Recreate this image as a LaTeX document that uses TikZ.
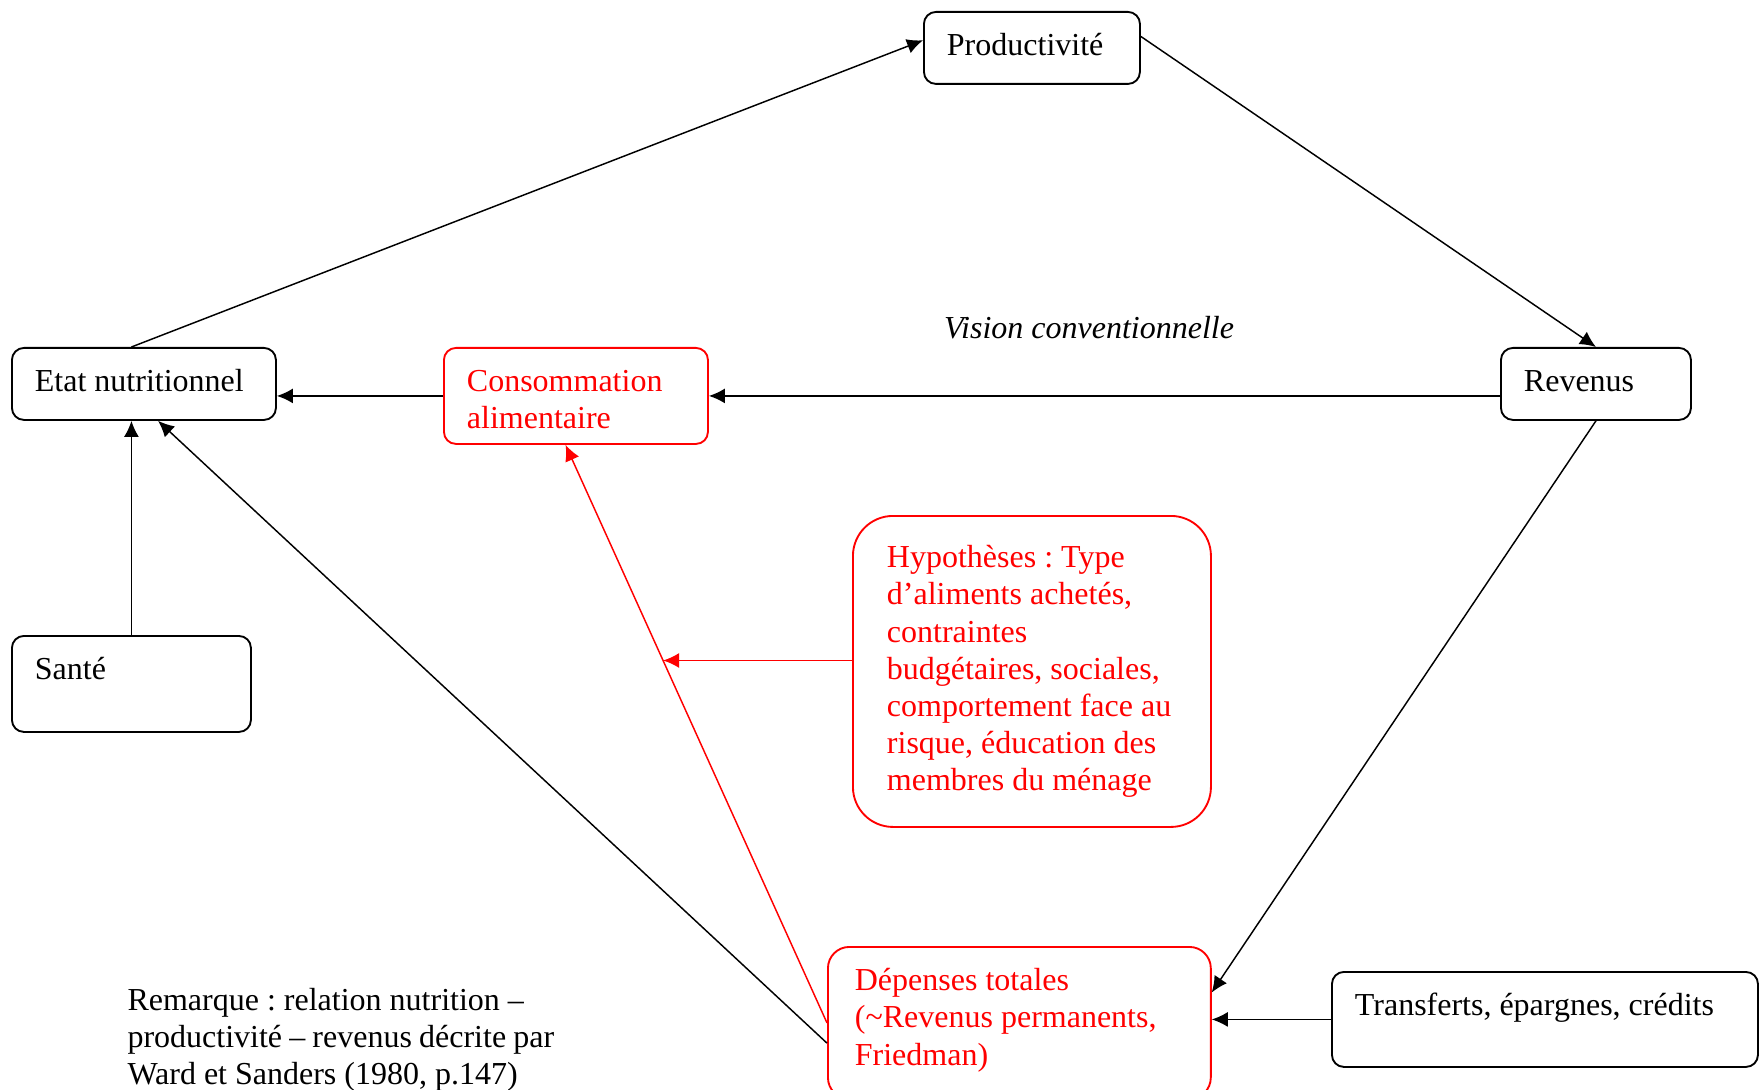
\documentclass[tikz,border=0pt]{standalone}
\usepackage{fontspec}
\setmainfont{Liberation Serif}
\usetikzlibrary{calc,arrows.meta}
\frenchspacing
\newlength{\pxu}
\setlength{\pxu}{0.375pt}
\newcommand{\txtsize}{\fontsize{12pt}{13.9pt}\selectfont}
\newcommand{\boxtext}[3]{\parbox[c][#1\pxu][t]{#2\pxu}{\strut #3}}
\tikzset{
    wbox/.style={draw, rounded corners=4.5pt, line width=0.7pt, anchor=north west, inner xsep=8.625pt, inner ysep=6.75pt},
    rbox/.style={wbox, draw=red, text=red},
    arr/.style={-{Latex[length=6pt,width=5.6pt]}, line width=0.55pt},
    rarr/.style={arr, red}
}
\begin{document}
\begin{tikzpicture}[x=0.375pt, y=-0.375pt, font=\txtsize]
    \useasboundingbox (0,0) rectangle (1760,1090);
    \node[wbox] (prod) at (923,11) {\boxtext{36}{170}{Productivité}};
    \node[wbox] (etat) at (11,347) {\boxtext{36}{218}{Etat nutritionnel}};
    \node[rbox] (conso) at (443,347) {\boxtext{60}{218}{Consommation\\alimentaire}};
    \node[wbox] (rev) at (1500,347) {\boxtext{36}{144}{Revenus}};
    \node[wbox] (sante) at (11,635) {\boxtext{60}{193}{Santé}};
    \node[rbox, rounded corners=15pt, inner xsep=12.75pt, inner ysep=9.75pt] (hyp) at (852,515) {\boxtext{259}{290}{Hypothèses : Type\\d’aliments achetés,\\contraintes\\budgétaires, sociales,\\comportement face au\\risque, éducation des\\membres du ménage}};
    \node[rbox, rounded corners=8pt, inner xsep=10.1pt] (dep) at (827,946) {\boxtext{116}{329}{Dépenses totales\\(\textasciitilde Revenus permanents,\\Friedman)}};
    \node[wbox] (transf) at (1331,971) {\boxtext{59}{380}{Transferts, épargnes, crédits}};
    \node[font=\txtsize\itshape, anchor=base] (vision) at (1089,339) {Vision conventionnelle};
    \node[anchor=north west, inner sep=0pt] (remarque) at (127,984) {\parbox[t]{160pt}{\strut Remarque : relation nutrition –\\productivité – revenus décrite par\\Ward et Sanders (1980, p.147)}};
    \coordinate (hit) at ($(dep.west)!0.627!(conso.258)$);
    \draw [arr] (etat.north -| sante.north) -- (prod.176);
    \draw [arr] (prod.6) -- (rev.north);
    \draw [arr] (rev.west |- conso.east) -- (conso.east);
    \draw [arr] (conso.west) -- (conso.west -| etat.east);
    \draw [arr] (sante.north) -- (sante.north |- etat.south);
    \draw [arr] (dep.186) -- (etat.291);
    \draw [arr] (rev.south) -- (dep.9);
    \draw [arr] (transf.west) -- (transf.west -| dep.east);
    \draw [rarr] (dep.west) -- (conso.258);
    \draw [rarr] (hit -| hyp.west) -- (hit);
\end{tikzpicture}
\end{document}
